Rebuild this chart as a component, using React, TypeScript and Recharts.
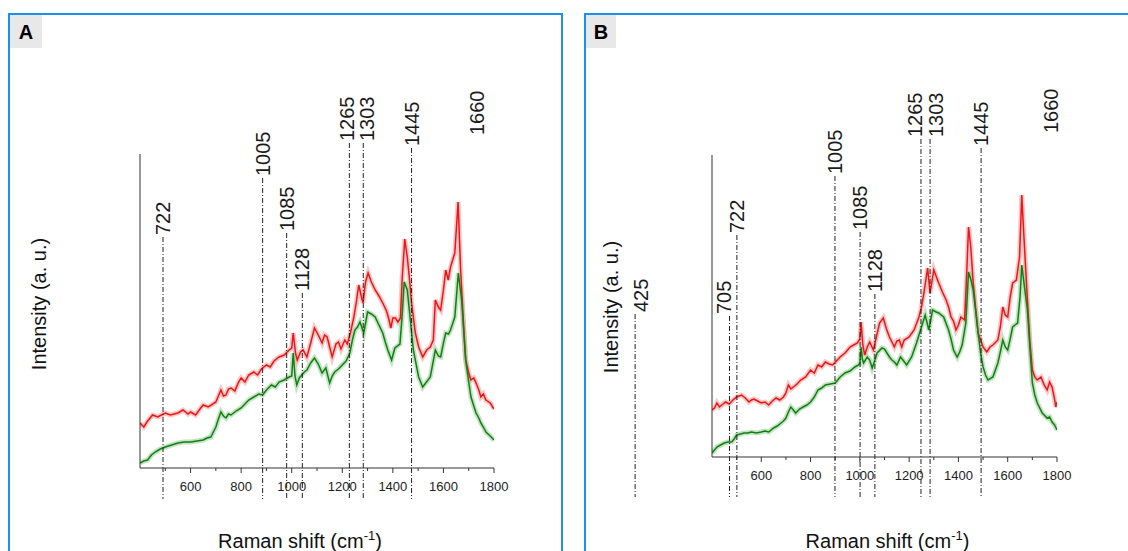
import { LineChart, Line, XAxis, YAxis, ReferenceLine } from 'recharts';

const FONT = '"Liberation Sans", Arial, sans-serif';
const RED = '#ee1515';
const RED_BAND = '#f59a9a';
const GREEN = '#137f13';
const GREEN_BAND = '#92cc92';
const BLUE = '#1f8fec';

type Pt = [number, number];

// x axis ticks (every 100) and the ones that get a label
const xTicks = [500, 600, 700, 800, 900, 1000, 1100, 1200, 1300, 1400, 1500, 1600, 1700, 1800];
const xTickLabels = [600, 800, 1000, 1200, 1400, 1600, 1800];

// panel A spectra
const redA: Pt[] = [
  [400, 45], [415, 41], [430, 47], [450, 53], [470, 51], [500, 55], [520, 53], [550, 55], [570, 58], [590, 54],
  [600, 56], [620, 53], [640, 60], [650, 63], [670, 61], [700, 66], [710, 72], [720, 78], [730, 72], [740, 73],
  [750, 79], [760, 80], [775, 77], [790, 86], [800, 90], [815, 86], [830, 93], [850, 96], [865, 93], [880, 99],
  [900, 103], [915, 101], [930, 107], [950, 111], [970, 113], [990, 118], [1000, 120], [1006, 135], [1015, 115],
  [1022, 108], [1035, 116], [1045, 118], [1060, 111], [1075, 125], [1090, 140], [1105, 133], [1120, 125],
  [1130, 133], [1140, 131], [1160, 111], [1175, 124], [1185, 126], [1195, 119], [1210, 128], [1220, 124],
  [1232, 135], [1245, 150], [1255, 165], [1265, 183], [1275, 172], [1282, 165], [1292, 186], [1302, 195],
  [1315, 186], [1330, 178], [1345, 172], [1360, 165], [1375, 157], [1385, 148], [1392, 140], [1400, 150],
  [1410, 150], [1420, 146], [1430, 150], [1437, 190], [1447, 229], [1457, 211], [1465, 191], [1474, 165],
  [1489, 135], [1502, 121], [1518, 111], [1534, 118], [1548, 121], [1560, 128], [1568, 168], [1580, 161],
  [1589, 158], [1600, 178], [1609, 198], [1619, 188], [1628, 201], [1645, 215], [1658, 266], [1668, 198],
  [1678, 151], [1688, 108], [1700, 95], [1709, 88], [1720, 90], [1729, 85], [1740, 78], [1748, 71], [1758, 74],
  [1768, 68], [1785, 65], [1800, 59],
];

const greenA: Pt[] = [
  [400, 5], [415, 7], [430, 8], [445, 13], [460, 16], [480, 19], [500, 21], [525, 23], [550, 25], [575, 26],
  [600, 26], [625, 27], [650, 28], [665, 30], [680, 31], [690, 36], [700, 41], [710, 49], [720, 56], [730, 52],
  [740, 50], [750, 54], [760, 53], [780, 57], [800, 60], [815, 64], [830, 68], [850, 71], [870, 74], [885, 73],
  [900, 78], [920, 83], [935, 81], [950, 86], [970, 88], [990, 91], [1000, 92], [1006, 115], [1013, 92],
  [1020, 83], [1030, 90], [1040, 93], [1050, 96], [1060, 98], [1075, 105], [1090, 110], [1105, 104], [1120, 95],
  [1135, 100], [1150, 85], [1160, 92], [1170, 96], [1185, 99], [1200, 103], [1215, 107], [1230, 115], [1240, 128],
  [1250, 138], [1260, 141], [1270, 146], [1285, 135], [1300, 156], [1315, 154], [1330, 151], [1345, 143],
  [1360, 135], [1370, 126], [1380, 118], [1395, 108], [1408, 120], [1428, 124], [1436, 150], [1445, 186],
  [1457, 178], [1468, 151], [1481, 118], [1502, 91], [1518, 81], [1530, 85], [1548, 91], [1568, 118], [1580, 112],
  [1589, 111], [1600, 125], [1609, 135], [1620, 134], [1628, 138], [1645, 151], [1659, 195], [1672, 168],
  [1688, 108], [1700, 86], [1709, 71], [1720, 62], [1729, 55], [1740, 50], [1748, 45], [1760, 40], [1768, 36],
  [1785, 32], [1800, 28],
];

// panel B spectra
const redB: Pt[] = [
  [400, 47], [410, 49], [420, 54], [430, 50], [440, 52], [455, 55], [470, 53], [485, 57], [500, 60], [520, 62],
  [535, 59], [550, 55], [560, 57], [570, 58], [585, 56], [600, 54], [615, 55], [630, 52], [645, 56], [660, 59],
  [675, 57], [690, 60], [700, 64], [710, 72], [720, 68], [730, 70], [745, 73], [760, 77], [780, 80], [800, 87],
  [815, 84], [830, 92], [845, 90], [860, 95], [875, 93], [890, 92], [905, 96], [920, 100], [940, 104], [960, 110],
  [975, 112], [990, 114], [1000, 118], [1005, 135], [1012, 112], [1020, 102], [1030, 110], [1040, 115],
  [1055, 107], [1065, 118], [1080, 134], [1095, 139], [1108, 128], [1120, 120], [1130, 115], [1140, 110],
  [1150, 116], [1160, 117], [1170, 110], [1180, 117], [1200, 120], [1220, 127], [1240, 140], [1250, 150],
  [1260, 164], [1275, 189], [1285, 164], [1300, 187], [1320, 174], [1335, 165], [1350, 157], [1360, 150],
  [1370, 140], [1380, 136], [1390, 127], [1400, 132], [1410, 140], [1425, 137], [1433, 180], [1441, 230],
  [1450, 210], [1460, 174], [1470, 148], [1480, 124], [1500, 110], [1515, 105], [1528, 110], [1540, 112],
  [1560, 117], [1570, 130], [1580, 150], [1590, 142], [1600, 140], [1610, 160], [1620, 174], [1635, 177],
  [1648, 200], [1657, 262], [1668, 210], [1680, 157], [1690, 115], [1700, 87], [1710, 80], [1720, 77],
  [1735, 80], [1748, 72], [1760, 67], [1770, 75], [1780, 70], [1790, 58], [1795, 50], [1800, 55],
];

const greenB: Pt[] = [
  [400, 4], [410, 7], [420, 10], [435, 12], [450, 14], [465, 15], [480, 15], [490, 18], [500, 22], [515, 23],
  [530, 24], [545, 24], [560, 25], [580, 24], [600, 25], [615, 26], [630, 25], [650, 29], [665, 31], [680, 34],
  [690, 36], [700, 39], [710, 45], [720, 50], [730, 47], [740, 44], [755, 48], [770, 50], [785, 52], [800, 55],
  [815, 60], [830, 67], [845, 69], [860, 72], [880, 73], [900, 74], [920, 80], [940, 84], [960, 86], [980, 90],
  [995, 92], [1000, 94], [1005, 110], [1010, 98], [1015, 94], [1030, 100], [1040, 97], [1050, 89], [1060, 96],
  [1070, 104], [1090, 109], [1100, 108], [1110, 104], [1120, 100], [1130, 97], [1140, 95], [1150, 92],
  [1165, 100], [1178, 96], [1190, 92], [1210, 100], [1230, 114], [1250, 130], [1265, 142], [1280, 127],
  [1295, 147], [1310, 145], [1320, 144], [1340, 140], [1360, 127], [1370, 118], [1380, 107], [1395, 100],
  [1405, 105], [1415, 112], [1430, 134], [1441, 185], [1450, 178], [1460, 167], [1470, 146], [1480, 124],
  [1490, 104], [1500, 90], [1510, 82], [1520, 77], [1540, 80], [1560, 94], [1570, 105], [1580, 117], [1590, 110],
  [1600, 107], [1610, 118], [1620, 130], [1640, 134], [1650, 160], [1657, 192], [1668, 170], [1680, 147],
  [1690, 110], [1700, 74], [1710, 62], [1720, 54], [1740, 44], [1760, 39], [1770, 40], [1780, 35], [1790, 32],
  [1800, 27],
];

// band annotations: label text, x on the plot axis, top of the dash-dot line (y units)
type Mark = { label: string; x: number; top: number; line: boolean };

const marksA: Mark[] = [
  { label: '722', x: 491, top: 231, line: true },
  { label: '1005', x: 885, top: 290, line: true },
  { label: '1085', x: 980, top: 235, line: true },
  { label: '1128', x: 1042, top: 175, line: true },
  { label: '1265', x: 1228, top: 325, line: true },
  { label: '1303', x: 1283, top: 325, line: true },
  { label: '1445', x: 1474, top: 320, line: true },
  { label: '1660', x: 1733, top: 331, line: false },
];

const marksB: Mark[] = [
  { label: '425', x: 88, top: 143, line: true },
  { label: '705', x: 471, top: 141, line: true },
  { label: '722', x: 501, top: 222, line: true },
  { label: '1005', x: 899, top: 281, line: true },
  { label: '1085', x: 1001, top: 225, line: true },
  { label: '1128', x: 1061, top: 163, line: true },
  { label: '1265', x: 1248, top: 318, line: true },
  { label: '1303', x: 1285, top: 318, line: true },
  { label: '1445', x: 1492, top: 309, line: true },
  { label: '1660', x: 1776, top: 322, line: false },
];

// small horizontal nudges for crowded labels (px)
const nudgeA: Record<string, number> = { '1265': -2, '1303': 4 };
const nudgeB: Record<string, number> = { '425': 6, '705': -5, '1265': -6, '1303': 6 };

const toRows = (pts: Pt[]) => pts.map(([x, y]) => ({ x, y }));

const XTick = (props: any) => {
  const { x, y, payload } = props;
  const major = xTickLabels.includes(payload.value);
  return (
    <g>
      <line x1={x} x2={x} y1={y} y2={y + (major ? 5 : 3)} stroke="#333" />
      {major && (
        <text x={x} y={y + 23} textAnchor="middle" fontFamily={FONT} fontSize={13} fill="#222">
          {payload.value}
        </text>
      )}
    </g>
  );
};

const peakLabel = (text: string, dx: number) => (props: any) => {
  const vb = props.viewBox;
  if (!vb) return null;
  const cx = vb.x + 7 + dx;
  const cy = vb.y - 2;
  return (
    <text
      x={cx}
      y={cy}
      transform={`rotate(-90 ${cx} ${cy})`}
      textAnchor="start"
      fontFamily={FONT}
      fontSize={20}
      fill="#1a1a1a"
    >
      {text}
    </text>
  );
};

interface PanelProps {
  left: number;
  red: Pt[];
  green: Pt[];
  marks: Mark[];
  nudge: Record<string, number>;
  yMax: number;
  lineBottom: number;
  margin: { top: number; left: number; right: number; bottom: number };
  xTitleDx: number;
  yTitleDy: number;
}

const Panel = ({ left, red, green, marks, nudge, yMax, lineBottom, margin, xTitleDx, yTitleDy }: PanelProps) => {
  const redRows = toRows(red);
  const greenRows = toRows(green);
  return (
    <div style={{ position: 'absolute', left, top: 0 }}>
      <LineChart width={564} height={551} margin={margin}>
        <XAxis
          type="number"
          dataKey="x"
          domain={[400, 1800]}
          allowDataOverflow
          ticks={xTicks}
          interval={0}
          tickSize={0}
          tickMargin={0}
          tickLine={false}
          tick={XTick}
          height={30}
          axisLine={{ stroke: '#333' }}
          label={(p: any) => {
            const vb = p.viewBox;
            if (!vb) return null;
            return (
              <text x={vb.x + vb.width / 2 + xTitleDx} y={548} textAnchor="middle" fontFamily={FONT} fontSize={20} fill="#111">
                <tspan>Raman shift (cm</tspan>
                <tspan dy={-8} fontSize={13}>-1</tspan>
                <tspan dy={8}>)</tspan>
              </text>
            );
          }}
        />
        <YAxis
          type="number"
          domain={[0, yMax]}
          allowDataOverflow
          tick={false}
          tickLine={false}
          width={10}
          axisLine={{ stroke: '#333' }}
          label={(p: any) => {
            const vb = p.viewBox;
            if (!vb) return null;
            const cx = vb.x + vb.width - 94;
            const cy = vb.y + vb.height / 2 + yTitleDy;
            return (
              <text x={cx} y={cy} transform={`rotate(-90 ${cx} ${cy})`} textAnchor="middle" fontFamily={FONT} fontSize={20} fill="#111">
                Intensity (a. u.)
              </text>
            );
          }}
        />
        <Line data={redRows} dataKey="y" type="linear" stroke={RED_BAND} strokeWidth={5} strokeOpacity={0.55} dot={false} isAnimationActive={false} />
        <Line data={greenRows} dataKey="y" type="linear" stroke={GREEN_BAND} strokeWidth={5} strokeOpacity={0.55} dot={false} isAnimationActive={false} />
        <Line data={redRows} dataKey="y" type="linear" stroke={RED} strokeWidth={1.5} dot={false} isAnimationActive={false} />
        <Line data={greenRows} dataKey="y" type="linear" stroke={GREEN} strokeWidth={1.5} dot={false} isAnimationActive={false} />
        {marks.map((m) => (
          <ReferenceLine
            key={m.label}
            segment={[
              { x: m.x, y: m.top },
              { x: m.x, y: m.line ? lineBottom : m.top },
            ]}
            ifOverflow="visible"
            stroke={m.line ? '#222' : 'none'}
            strokeWidth={1}
            strokeDasharray="5 2 1 2"
            label={peakLabel(m.label, nudge[m.label] ?? 0)}
          />
        ))}
      </LineChart>
    </div>
  );
};

const tagStyle = (left: number, width: number): React.CSSProperties => ({
  position: 'absolute',
  left,
  top: 15,
  width,
  height: 33,
  background: '#e8e8e8',
  fontFamily: FONT,
  fontWeight: 700,
  fontSize: 20,
  lineHeight: '35px',
  textAlign: 'center',
  color: '#000',
});

export default function App() {
  return (
    <div style={{ position: 'absolute', left: 0, top: 0, width: 1128, height: 551, overflow: 'hidden', background: '#fff' }}>
      <div style={{ position: 'absolute', left: 8, top: 13, width: 555, height: 600, boxSizing: 'border-box', border: `2px solid ${BLUE}` }} />
      <div style={{ position: 'absolute', left: 584, top: 13, width: 600, height: 600, boxSizing: 'border-box', border: `2px solid ${BLUE}` }} />
      <div style={tagStyle(10, 32)}>A</div>
      <div style={tagStyle(586, 30)}>B</div>
      <Panel
        left={0}
        red={redA}
        green={greenA}
        marks={marksA}
        nudge={nudgeA}
        yMax={314}
        lineBottom={-31}
        margin={{ top: 154, left: 130, right: 70, bottom: 53 }}
        xTitleDx={-17}
        yTitleDy={-7}
      />
      <Panel
        left={564}
        red={redB}
        green={greenB}
        marks={marksB}
        nudge={nudgeB}
        yMax={302}
        lineBottom={-40}
        margin={{ top: 155, left: 138, right: 71, bottom: 64 }}
        xTitleDx={3}
        yTitleDy={1}
      />
    </div>
  );
}
